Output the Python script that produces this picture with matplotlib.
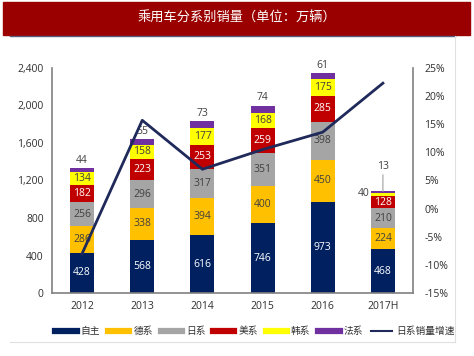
import numpy as np
import matplotlib
matplotlib.use("Agg")
import matplotlib.pyplot as plt
from matplotlib.patches import Rectangle
from matplotlib.lines import Line2D

plt.rcParams['font.family'] = ['Noto Sans CJK SC', 'DejaVu Sans']

years = ["2012", "2013", "2014", "2015", "2016", "2017H"]
series_names = ["自主", "德系", "日系", "美系", "韩系", "法系"]
zizhu = [428, 568, 616, 746, 973, 468]
dexi = [286, 338, 394, 400, 450, 224]
rixi = [256, 296, 317, 351, 398, 210]
meixi = [182, 223, 253, 259, 285, 128]
hanxi = [134, 158, 177, 168, 175, 40]
faxi = [44, 55, 73, 74, 61, 13]
rixi_growth = [-8.0, 15.7, 7.0, 10.5, 13.6, 22.3]
line_name = "日系销量增速"

colors = ["#002060", "#FFC000", "#A5A5A5", "#C00000", "#FFFF00", "#7030A0"]
label_colors = ["white", "#404040", "#404040", "white", "#404040", "#404040"]

fig = plt.figure(figsize=(4.74, 3.56), dpi=100)

# title banner
fig.patches.append(Rectangle((3 / 474, 1 - 35 / 356), 467 / 474, 33 / 356,
                             transform=fig.transFigure, color="#9B0000", zorder=0))
fig.text(0.5, 1 - 18 / 356, "乘用车分系别销量（单位：万辆）", color="white",
         ha="center", va="center", fontsize=9.5)
fig.add_artist(Line2D([10 / 474, 455 / 474], [1 - 36 / 356, 1 - 36 / 356],
                      transform=fig.transFigure, color="#5A5A7A", lw=1))
fig.add_artist(Line2D([455 / 474, 455 / 474], [1 - 36 / 356, 1 - 342 / 356],
                      transform=fig.transFigure, color="#E0E0E0", lw=0.8))
fig.add_artist(Line2D([10 / 474, 455 / 474], [1 - 342 / 356, 1 - 342 / 356],
                      transform=fig.transFigure, color="#E0E0E0", lw=0.8))

ax = fig.add_axes([52 / 474, 1 - 293 / 356, 361 / 474, 225 / 356])
x = np.arange(len(years))
data = [zizhu, dexi, rixi, meixi, hanxi, faxi]
bottom = np.zeros(len(years))
for k, vals in enumerate(data):
    vals = np.array(vals, dtype=float)
    ax.bar(x, vals, 0.4, bottom=bottom, color=colors[k], zorder=2)
    for i, v in enumerate(vals):
        if k == 5:
            if i == 5:
                ax.annotate(str(int(v)), (x[i], bottom[i] + v), xytext=(0, 14),
                            textcoords="offset points", ha="center", va="bottom",
                            fontsize=7.5, color="#404040", family="Open Sans",
                            arrowprops=dict(arrowstyle="-", color="#A0A0A0", lw=0.8,
                                            shrinkA=0, shrinkB=0))
            else:
                ax.text(x[i], bottom[i] + v + 25, str(int(v)), ha="center", va="bottom",
                        fontsize=7.5, color="#404040", family="Open Sans")
        elif k == 4 and i == 5:
            ax.text(x[i] - 0.22, bottom[i] + v / 2 + 15, str(int(v)), ha="right",
                    va="center", fontsize=7.5, color="#404040", family="Open Sans")
        else:
            ax.text(x[i], bottom[i] + v / 2, str(int(v)), ha="center", va="center",
                    fontsize=7.5, color=label_colors[k], family="Open Sans")
    bottom += vals

ax.set_xlim(-0.5, 5.5)
ax.set_ylim(0, 2400)
ax.set_yticks(np.arange(0, 2401, 400))
ax.set_yticklabels([f"{v:,}" for v in range(0, 2401, 400)])
ax.set_xticks(x)
ax.set_xticklabels(years)
ax.tick_params(length=0, labelsize=7.5, colors="#303030", pad=6)
for s in ["top", "right"]:
    ax.spines[s].set_visible(False)
for s in ["left", "bottom"]:
    ax.spines[s].set_color("#808080")
    ax.spines[s].set_linewidth(1.2)
for lab in ax.get_xticklabels() + ax.get_yticklabels():
    lab.set_family("Open Sans")

ax2 = ax.twinx()
ax2.plot(x, rixi_growth, color="#1F2A5A", lw=2, zorder=5)
ax2.set_ylim(-15, 25)
ax2.set_yticks(np.arange(-15, 26, 5))
ax2.set_yticklabels([f"{v}%" for v in range(-15, 26, 5)])
ax2.tick_params(length=0, labelsize=7.5, colors="#303030", pad=8)
for s in ["top", "left", "bottom"]:
    ax2.spines[s].set_visible(False)
ax2.spines["right"].set_color("#808080")
ax2.spines["right"].set_linewidth(1.2)
for lab in ax2.get_yticklabels():
    lab.set_family("Open Sans")

handles = [Line2D([0], [0], color=c, lw=4.5) for c in colors]
handles.append(Line2D([0], [0], color="#1F2A5A", lw=1.5))
leg = fig.legend(handles, series_names + [line_name], loc="center",
                 bbox_to_anchor=(255 / 474, 1 - 331 / 356), ncol=7, frameon=False,
                 fontsize=7, handlelength=2.2, handletextpad=0.4, columnspacing=0.8)
for t in leg.get_texts():
    t.set_color("#303030")

fig.savefig("out.png", dpi=100)
